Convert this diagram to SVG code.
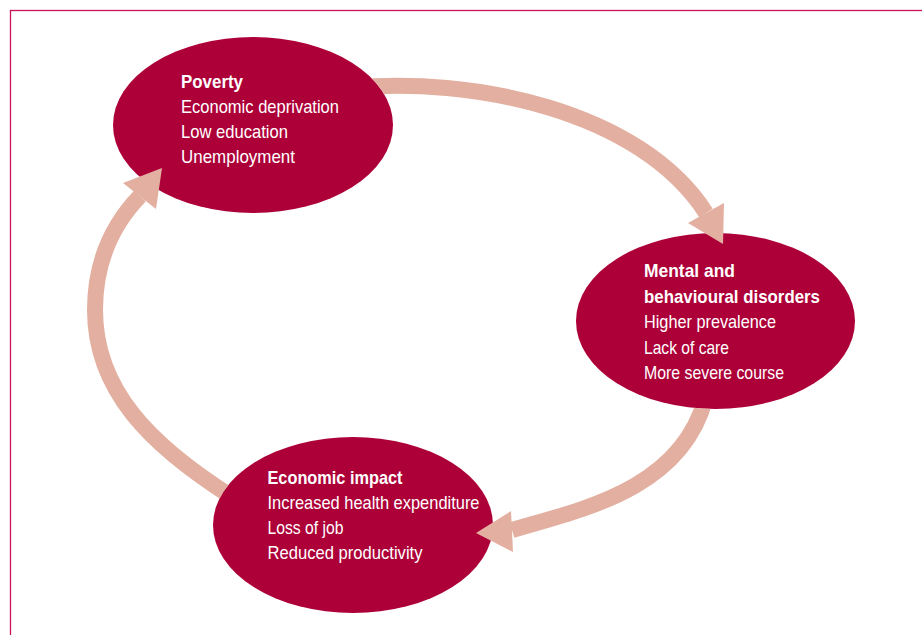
<svg xmlns="http://www.w3.org/2000/svg" width="922" height="635" viewBox="0 0 922 635">
<style>
.frame{fill:none;stroke:#C8125A;stroke-width:1.3}
.flow{fill:none;stroke:#E3AFA0;stroke-width:16}
.head{fill:#E3AFA0}
.node{fill:#AD0038}
text{font-family:"Liberation Sans","Arial",sans-serif;font-size:19px;fill:#FFFFFF}
.t{font-weight:bold}
</style>
<defs>
<mask id="outside" maskUnits="userSpaceOnUse" x="0" y="0" width="922" height="635">
<rect width="922" height="635" fill="#FFFFFF"/>
<ellipse cx="253" cy="125" rx="140" ry="88" fill="#000000"/>
<ellipse cx="715.5" cy="321" rx="139.5" ry="88" fill="#000000"/>
<ellipse cx="353" cy="525" rx="140" ry="88" fill="#000000"/>
</mask>
</defs>
<rect width="922" height="635" fill="#FFFFFF"/>
<rect class="frame" x="10.5" y="10.5" width="930" height="640"/>
<g id="poverty">
<ellipse class="node" cx="253" cy="125" rx="140" ry="88"/>
<text class="t" x="181" y="88" textLength="62" lengthAdjust="spacingAndGlyphs">Poverty</text>
<text x="181" y="113" textLength="158" lengthAdjust="spacingAndGlyphs">Economic deprivation</text>
<text x="181" y="138" textLength="107" lengthAdjust="spacingAndGlyphs">Low education</text>
<text x="181" y="163" textLength="114" lengthAdjust="spacingAndGlyphs">Unemployment</text>
</g>
<g id="mental">
<ellipse class="node" cx="715.5" cy="321" rx="139.5" ry="88"/>
<text class="t" x="644" y="277" textLength="91" lengthAdjust="spacingAndGlyphs">Mental and</text>
<text class="t" x="644" y="302.5" textLength="176" lengthAdjust="spacingAndGlyphs">behavioural disorders</text>
<text x="644" y="328" textLength="132" lengthAdjust="spacingAndGlyphs">Higher prevalence</text>
<text x="644" y="353.5" textLength="85" lengthAdjust="spacingAndGlyphs">Lack of care</text>
<text x="644" y="379" textLength="140" lengthAdjust="spacingAndGlyphs">More severe course</text>
</g>
<g id="economic">
<ellipse class="node" cx="353" cy="525" rx="140" ry="88"/>
<text class="t" x="267.5" y="484" textLength="135" lengthAdjust="spacingAndGlyphs">Economic impact</text>
<text x="267.5" y="509" textLength="212" lengthAdjust="spacingAndGlyphs">Increased health expenditure</text>
<text x="267.5" y="534" textLength="76" lengthAdjust="spacingAndGlyphs">Loss of job</text>
<text x="267.5" y="559" textLength="155" lengthAdjust="spacingAndGlyphs">Reduced productivity</text>
</g>
<g id="connectors">
<g mask="url(#outside)">
<path class="flow" d="M 350 88 C 470 76, 640 110, 706 213"/>
<path class="flow" d="M 705 400 C 680 490, 580 510, 512 530"/>
<path class="flow" d="M 232 497 C 150 445, 95 390, 95 310 C 95 262, 112 225, 140 196"/>
</g>
<polygon class="head" points="723,244 688,223 724,203"/>
<polygon class="head" points="476,533 511,511 513,552"/>
<polygon class="head" points="162,168 123,183 156,209"/>
</g>
</svg>
